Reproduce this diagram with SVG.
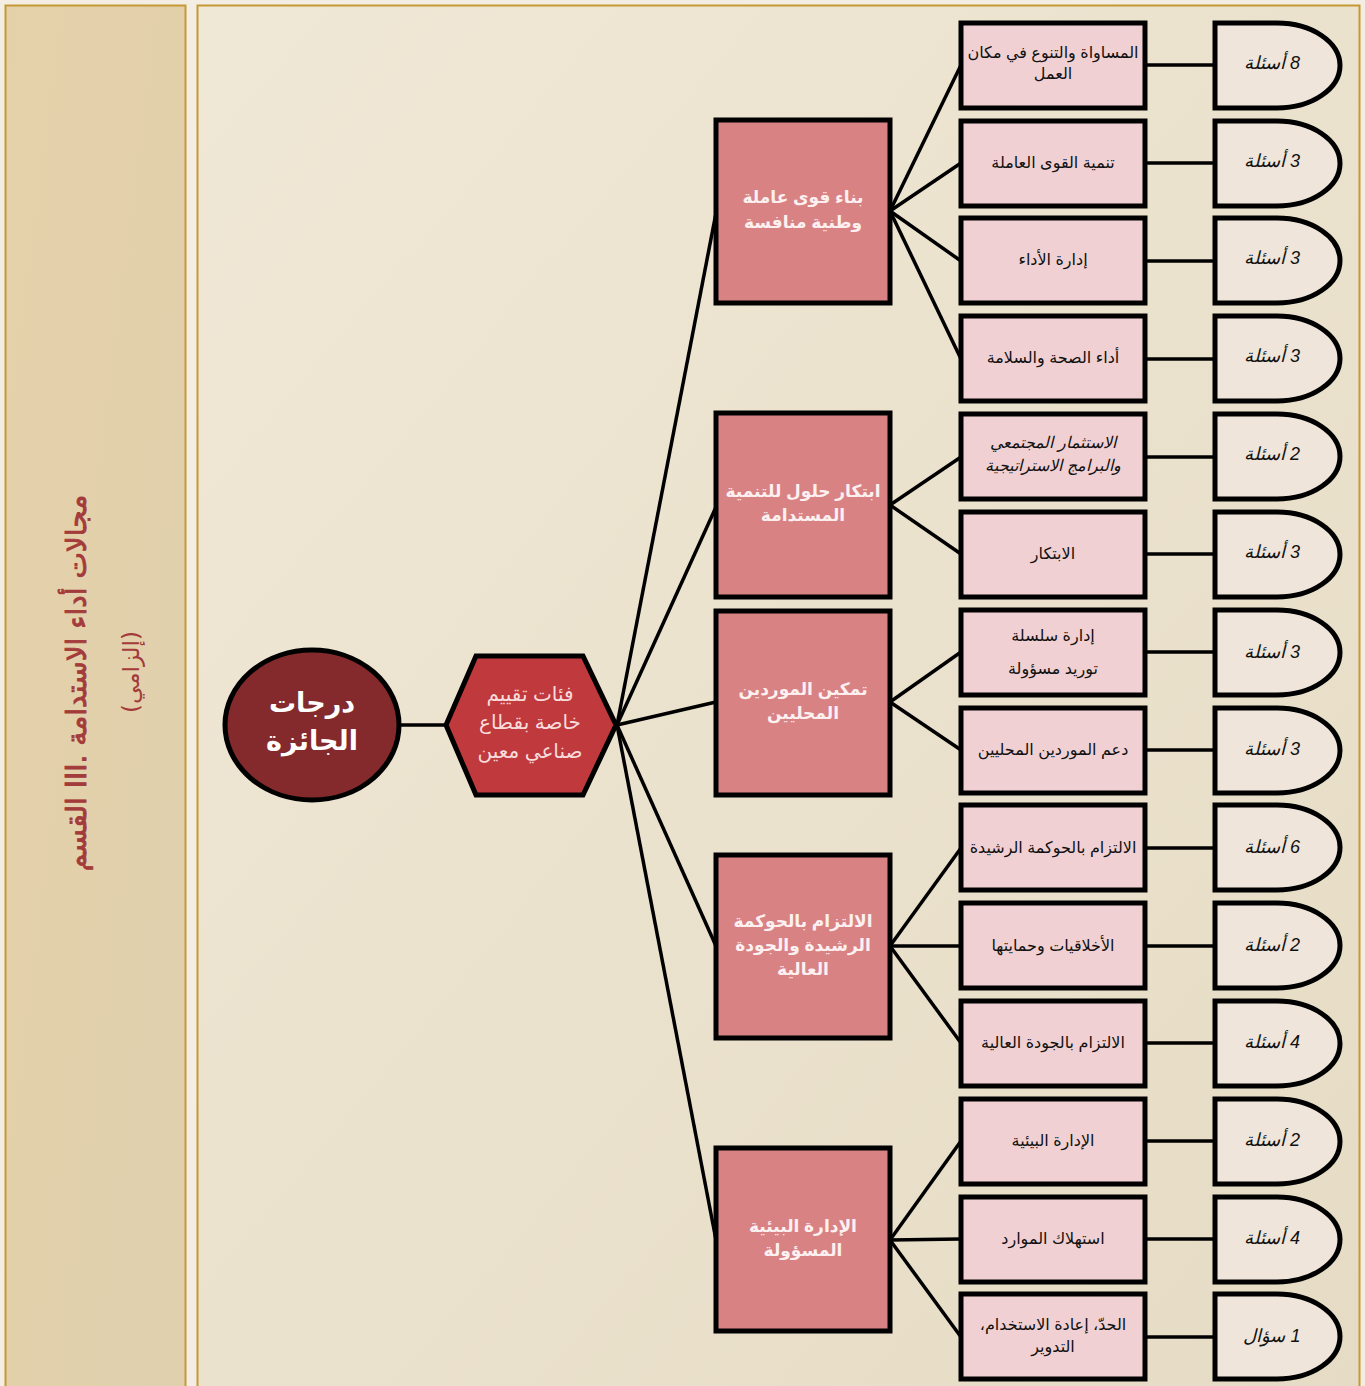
<svg xmlns="http://www.w3.org/2000/svg" width="1365" height="1386" viewBox="0 0 1365 1386">
<defs>
<linearGradient id="gMain" x1="0" y1="0" x2="1" y2="1">
<stop offset="0" stop-color="#F0E8D6"/>
<stop offset="1" stop-color="#E6DCC5"/>
</linearGradient>
<linearGradient id="gLeft" x1="0" y1="0" x2="1" y2="1">
<stop offset="0" stop-color="#E5D1A9"/>
<stop offset="1" stop-color="#E0D0AE"/>
</linearGradient>
<style>
.conn{stroke:#000;stroke-width:3.5;fill:none}
.l2{fill:#D88284;stroke:#000;stroke-width:5}
.l3{fill:#F0D0D2;stroke:#000;stroke-width:5}
.dq{fill:#F0E5DA;stroke:#000;stroke-width:5}
.t2{font-family:"Liberation Sans","DejaVu Sans",sans-serif;font-size:17px;font-weight:bold;fill:#FDF0F0;text-anchor:middle;direction:rtl}
.t3{font-family:"Liberation Sans","DejaVu Sans",sans-serif;font-size:16px;fill:#111;text-anchor:middle;direction:rtl}
.tq{font-family:"Liberation Sans","DejaVu Sans",sans-serif;font-size:18px;font-style:italic;fill:#111;text-anchor:middle;direction:rtl}
</style>
</defs>
<rect x="0" y="0" width="1365" height="1386" fill="#F3EDE3"/>
<g id="sidebar">
<rect x="5.5" y="5.5" width="180" height="1390" fill="url(#gLeft)" stroke="#C49A35" stroke-width="2"/>
<text transform="translate(76,683) rotate(-90)" font-family="'DejaVu Sans',sans-serif" font-size="28" fill="#A43B3B" stroke="#A43B3B" stroke-width="0.9" text-anchor="middle" dominant-baseline="central" direction="rtl">مجالات أداء الاستدامة .III القسم</text>
<text transform="translate(131,672) rotate(-90)" font-family="'DejaVu Sans',sans-serif" font-size="23" fill="#A43B3B" text-anchor="middle" dominant-baseline="central" direction="rtl">(إلزامي)</text>
</g>
<rect x="197.5" y="5.5" width="1162" height="1390" fill="url(#gMain)" stroke="#C49A35" stroke-width="2"/>
<g id="connectors">
<line class="conn" x1="398" y1="725" x2="446" y2="725"/>
<line class="conn" x1="617" y1="725" x2="716" y2="213"/>
<line class="conn" x1="617" y1="725" x2="716" y2="507"/>
<line class="conn" x1="617" y1="725" x2="716" y2="702"/>
<line class="conn" x1="617" y1="725" x2="716" y2="946"/>
<line class="conn" x1="617" y1="725" x2="716" y2="1240"/>
<line class="conn" x1="890" y1="211" x2="961" y2="65"/>
<line class="conn" x1="890" y1="211" x2="961" y2="163"/>
<line class="conn" x1="890" y1="211" x2="961" y2="261"/>
<line class="conn" x1="890" y1="211" x2="961" y2="359"/>
<line class="conn" x1="890" y1="505" x2="961" y2="457"/>
<line class="conn" x1="890" y1="505" x2="961" y2="554"/>
<line class="conn" x1="890" y1="702" x2="961" y2="652"/>
<line class="conn" x1="890" y1="702" x2="961" y2="750"/>
<line class="conn" x1="890" y1="946" x2="961" y2="848"/>
<line class="conn" x1="890" y1="946" x2="961" y2="946"/>
<line class="conn" x1="890" y1="946" x2="961" y2="1043"/>
<line class="conn" x1="890" y1="1240" x2="961" y2="1141"/>
<line class="conn" x1="890" y1="1240" x2="961" y2="1239"/>
<line class="conn" x1="890" y1="1240" x2="961" y2="1337"/>
<line class="conn" x1="1145" y1="65" x2="1215" y2="65"/>
<line class="conn" x1="1145" y1="163" x2="1215" y2="163"/>
<line class="conn" x1="1145" y1="261" x2="1215" y2="261"/>
<line class="conn" x1="1145" y1="359" x2="1215" y2="359"/>
<line class="conn" x1="1145" y1="457" x2="1215" y2="457"/>
<line class="conn" x1="1145" y1="554" x2="1215" y2="554"/>
<line class="conn" x1="1145" y1="652" x2="1215" y2="652"/>
<line class="conn" x1="1145" y1="750" x2="1215" y2="750"/>
<line class="conn" x1="1145" y1="848" x2="1215" y2="848"/>
<line class="conn" x1="1145" y1="946" x2="1215" y2="946"/>
<line class="conn" x1="1145" y1="1043" x2="1215" y2="1043"/>
<line class="conn" x1="1145" y1="1141" x2="1215" y2="1141"/>
<line class="conn" x1="1145" y1="1239" x2="1215" y2="1239"/>
<line class="conn" x1="1145" y1="1337" x2="1215" y2="1337"/>
</g>
<g id="root">
<ellipse cx="312" cy="725" rx="87" ry="75" fill="#842A2C" stroke="#000" stroke-width="5"/>
<text x="312" y="712" font-family="'Liberation Sans','DejaVu Sans',sans-serif" font-size="27" font-weight="bold" fill="#FFF" text-anchor="middle" direction="rtl">درجات</text>
<text x="312" y="750" font-family="'Liberation Sans','DejaVu Sans',sans-serif" font-size="27" font-weight="bold" fill="#FFF" text-anchor="middle" direction="rtl">الجائزة</text>
</g>
<g id="hexagon">
<polygon points="446,725 476,656 583,656 616,725 583,795 476,795" fill="#C0393D" stroke="#000" stroke-width="5"/>
<text x="530" y="701" font-family="'Liberation Sans','DejaVu Sans',sans-serif" font-size="20" fill="#F8DCDC" text-anchor="middle" direction="rtl">فئات تقييم</text>
<text x="530" y="729" font-family="'Liberation Sans','DejaVu Sans',sans-serif" font-size="20" fill="#F8DCDC" text-anchor="middle" direction="rtl">خاصة بقطاع</text>
<text x="530" y="758" font-family="'Liberation Sans','DejaVu Sans',sans-serif" font-size="20" fill="#F8DCDC" text-anchor="middle" direction="rtl">صناعي معين</text>
</g>
<g id="cat1"><rect class="l2" x="716" y="120" width="174" height="183"/><text class="t2" x="803" y="203">بناء قوى عاملة</text><text class="t2" x="803" y="228">وطنية منافسة</text></g>
<g id="cat2"><rect class="l2" x="716" y="413" width="174" height="184"/><text class="t2" x="803" y="497">ابتكار حلول للتنمية</text><text class="t2" x="803" y="521">المستدامة</text></g>
<g id="cat3"><rect class="l2" x="716" y="611" width="174" height="184"/><text class="t2" x="803" y="695">تمكين الموردين</text><text class="t2" x="803" y="719">المحليين</text></g>
<g id="cat4"><rect class="l2" x="716" y="855" width="174" height="183"/><text class="t2" x="803" y="927">الالتزام بالحوكمة</text><text class="t2" x="803" y="951">الرشيدة والجودة</text><text class="t2" x="803" y="975">العالية</text></g>
<g id="cat5"><rect class="l2" x="716" y="1148" width="174" height="183"/><text class="t2" x="803" y="1232">الإدارة البيئية</text><text class="t2" x="803" y="1256">المسؤولة</text></g>
<g id="item1"><rect class="l3" x="961" y="23" width="184" height="85"/><text class="t3" x="1053" y="58">المساواة والتنوع في مكان</text><text class="t3" x="1053" y="79">العمل</text></g>
<g id="item2"><rect class="l3" x="961" y="121" width="184" height="85"/><text class="t3" x="1053" y="168">تنمية القوى العاملة</text></g>
<g id="item3"><rect class="l3" x="961" y="218" width="184" height="85"/><text class="t3" x="1053" y="265">إدارة الأداء</text></g>
<g id="item4"><rect class="l3" x="961" y="316" width="184" height="85"/><text class="t3" x="1053" y="363">أداء الصحة والسلامة</text></g>
<g id="item5"><rect class="l3" x="961" y="414" width="184" height="85"/><text class="t3" x="1053" y="448" font-style="italic">الاستثمار المجتمعي</text><text class="t3" x="1053" y="471" font-style="italic">والبرامج الاستراتيجية</text></g>
<g id="item6"><rect class="l3" x="961" y="512" width="184" height="85"/><text class="t3" x="1053" y="559">الابتكار</text></g>
<g id="item7"><rect class="l3" x="961" y="610" width="184" height="85"/><text class="t3" x="1053" y="641">إدارة سلسلة</text><text class="t3" x="1053" y="674">توريد مسؤولة</text></g>
<g id="item8"><rect class="l3" x="961" y="708" width="184" height="85"/><text class="t3" x="1053" y="755">دعم الموردين المحليين</text></g>
<g id="item9"><rect class="l3" x="961" y="805" width="184" height="85"/><text class="t3" x="1053" y="853">الالتزام بالحوكمة الرشيدة</text></g>
<g id="item10"><rect class="l3" x="961" y="903" width="184" height="85"/><text class="t3" x="1053" y="951">الأخلاقيات وحمايتها</text></g>
<g id="item11"><rect class="l3" x="961" y="1001" width="184" height="85"/><text class="t3" x="1053" y="1048">الالتزام بالجودة العالية</text></g>
<g id="item12"><rect class="l3" x="961" y="1099" width="184" height="85"/><text class="t3" x="1053" y="1146">الإدارة البيئية</text></g>
<g id="item13"><rect class="l3" x="961" y="1197" width="184" height="85"/><text class="t3" x="1053" y="1244">استهلاك الموارد</text></g>
<g id="item14"><rect class="l3" x="961" y="1294" width="184" height="85"/><text class="t3" x="1053" y="1330">الحدّ، إعادة الاستخدام،</text><text class="t3" x="1053" y="1352">التدوير</text></g>
<g id="q1"><path class="dq" d="M1215,23 H1277 A63,42.5 0 0 1 1277,108 H1215 Z"/><text class="tq" x="1272" y="69">8 أسئلة</text></g>
<g id="q2"><path class="dq" d="M1215,121 H1277 A63,42.5 0 0 1 1277,206 H1215 Z"/><text class="tq" x="1272" y="167">3 أسئلة</text></g>
<g id="q3"><path class="dq" d="M1215,218 H1277 A63,42.5 0 0 1 1277,303 H1215 Z"/><text class="tq" x="1272" y="264">3 أسئلة</text></g>
<g id="q4"><path class="dq" d="M1215,316 H1277 A63,42.5 0 0 1 1277,401 H1215 Z"/><text class="tq" x="1272" y="362">3 أسئلة</text></g>
<g id="q5"><path class="dq" d="M1215,414 H1277 A63,42.5 0 0 1 1277,499 H1215 Z"/><text class="tq" x="1272" y="460">2 أسئلة</text></g>
<g id="q6"><path class="dq" d="M1215,512 H1277 A63,42.5 0 0 1 1277,597 H1215 Z"/><text class="tq" x="1272" y="558">3 أسئلة</text></g>
<g id="q7"><path class="dq" d="M1215,610 H1277 A63,42.5 0 0 1 1277,695 H1215 Z"/><text class="tq" x="1272" y="658">3 أسئلة</text></g>
<g id="q8"><path class="dq" d="M1215,708 H1277 A63,42.5 0 0 1 1277,793 H1215 Z"/><text class="tq" x="1272" y="755">3 أسئلة</text></g>
<g id="q9"><path class="dq" d="M1215,805 H1277 A63,42.5 0 0 1 1277,890 H1215 Z"/><text class="tq" x="1272" y="853">6 أسئلة</text></g>
<g id="q10"><path class="dq" d="M1215,903 H1277 A63,42.5 0 0 1 1277,988 H1215 Z"/><text class="tq" x="1272" y="951">2 أسئلة</text></g>
<g id="q11"><path class="dq" d="M1215,1001 H1277 A63,42.5 0 0 1 1277,1086 H1215 Z"/><text class="tq" x="1272" y="1048">4 أسئلة</text></g>
<g id="q12"><path class="dq" d="M1215,1099 H1277 A63,42.5 0 0 1 1277,1184 H1215 Z"/><text class="tq" x="1272" y="1146">2 أسئلة</text></g>
<g id="q13"><path class="dq" d="M1215,1197 H1277 A63,42.5 0 0 1 1277,1282 H1215 Z"/><text class="tq" x="1272" y="1244">4 أسئلة</text></g>
<g id="q14"><path class="dq" d="M1215,1294 H1277 A63,42.5 0 0 1 1277,1379 H1215 Z"/><text class="tq" x="1272" y="1342">1 سؤال</text></g>
</svg>
